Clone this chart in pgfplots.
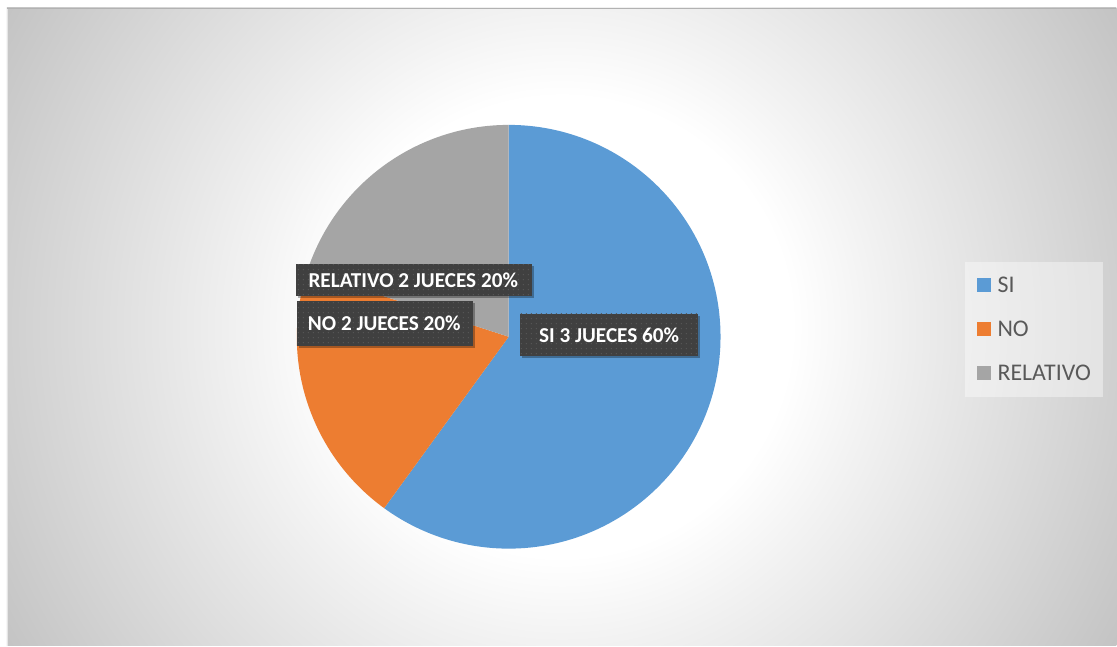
\documentclass[border=0pt]{standalone}
\usepackage{pgfplots}
\pgfplotsset{compat=1.18}
\usepackage{fontspec}
\setmainfont{Carlito}
\usetikzlibrary{patterns,shadows}

\definecolor{siblue}{HTML}{5B9BD5}
\definecolor{noorange}{HTML}{ED7D31}
\definecolor{relgray}{HTML}{A5A5A5}
\definecolor{boxdark}{HTML}{404040}
\definecolor{boxdot}{HTML}{585858}
\definecolor{legtext}{HTML}{595959}
\definecolor{bgA}{gray}{0.953}
\definecolor{bgB}{gray}{0.768}
\definecolor{bgC}{gray}{0.76}

% background: white in the middle, grey towards the corners
% (the 25bp ring lands on the edge of the shaded circle)
\pgfdeclareradialshading{chartbg}{\pgfpoint{0bp}{0bp}}{%
  color(0bp)=(white); color(8.7bp)=(white); color(11.7bp)=(bgA);
  color(24.2bp)=(bgB); color(25bp)=(bgC); color(50bp)=(bgC)}

% dotted texture of the data label boxes
\pgfdeclarepatternformonly{labeldots}{\pgfqpoint{0bp}{0bp}}{\pgfqpoint{5.3bp}{5.3bp}}%
  {\pgfqpoint{5.3bp}{5.3bp}}{%
  \pgfpathcircle{\pgfqpoint{2.65bp}{2.65bp}}{0.75bp}\pgfusepath{fill}}

% pie slice: start (percent), value (percent), colour; clockwise from the top
\newcommand{\slice}[3]{%
  \fill[#3] (axis cs:0,0) -- ([shift={({90-3.6*#1}:212bp)}]axis cs:0,0)
    arc[start angle={90-3.6*#1}, delta angle={-3.6*#2}, radius=212bp] -- cycle;}

% data label: box corners, text base point, text
\newcommand{\datalabel}[7]{%
  \fill[boxdark, drop shadow={shadow xshift=2.5bp, shadow yshift=-2.5bp,
    fill=black, opacity=0.3}] (axis cs:#1,#2) rectangle (axis cs:#3,#4);
  \fill[pattern=labeldots, pattern color=boxdot] (axis cs:#1,#2) rectangle (axis cs:#3,#4);
  \node[anchor=base, text=white, inner sep=0pt,
    font=\bfseries\fontsize{21.3}{21.3}\selectfont] at (axis cs:#5,#6) {#7};}

\begin{document}
\begin{tikzpicture}[x=1bp, y=1bp]
\fill[white] (0,0) rectangle (1117,646);
\begin{scope}
  \clip (7,0) rectangle (1117,638);
  \shade[shading=chartbg] (562,319) circle (660);
\end{scope}
\draw[gray!60, line width=1.5bp] (7,637.3) -- (1117,637.3);
\draw[gray!20, line width=1bp] (7.5,0) -- (7.5,637);

\begin{axis}[
  at={(509bp,309bp)}, anchor=origin,
  scale only axis, width=1117bp, height=646bp,
  xmin=-509, xmax=608, ymin=-309, ymax=337,
  hide axis, clip=false,
  legend image code/.code={\fill[#1, draw=none, fill opacity=1] (0bp,-7bp) rectangle (14bp,7bp);},
  legend cell align=left,
  legend style={at={(axis cs:456,75)}, anchor=north west, draw=none,
    fill=white, fill opacity=0.4, text opacity=1, text=legtext,
    font=\fontsize{24}{24}\selectfont,
    inner xsep=12bp, inner ysep=16bp, row sep=29bp, column sep=7bp,
    nodes={inner sep=0pt, text height=15bp, text depth=0pt}},
]
% SI 60, NO 20, RELATIVO 20
\slice{0}{60}{siblue}
\slice{60}{20}{noorange}
\slice{80}{20}{relgray}

\datalabel{-213}{73}{23}{41}{-95.5}{49}{RELATIVO 2 JUECES 20\%}
\datalabel{-212}{36}{-36}{-9}{-124.5}{6}{NO 2 JUECES 20\%}
\datalabel{11}{23}{189}{-19}{100.5}{-6}{SI 3 JUECES 60\%}

\addlegendimage{fill=siblue, draw=none}
\addlegendentry{SI}
\addlegendimage{fill=noorange, draw=none}
\addlegendentry{NO}
\addlegendimage{fill=relgray, draw=none}
\addlegendentry{RELATIVO}
\end{axis}
\end{tikzpicture}
\end{document}
